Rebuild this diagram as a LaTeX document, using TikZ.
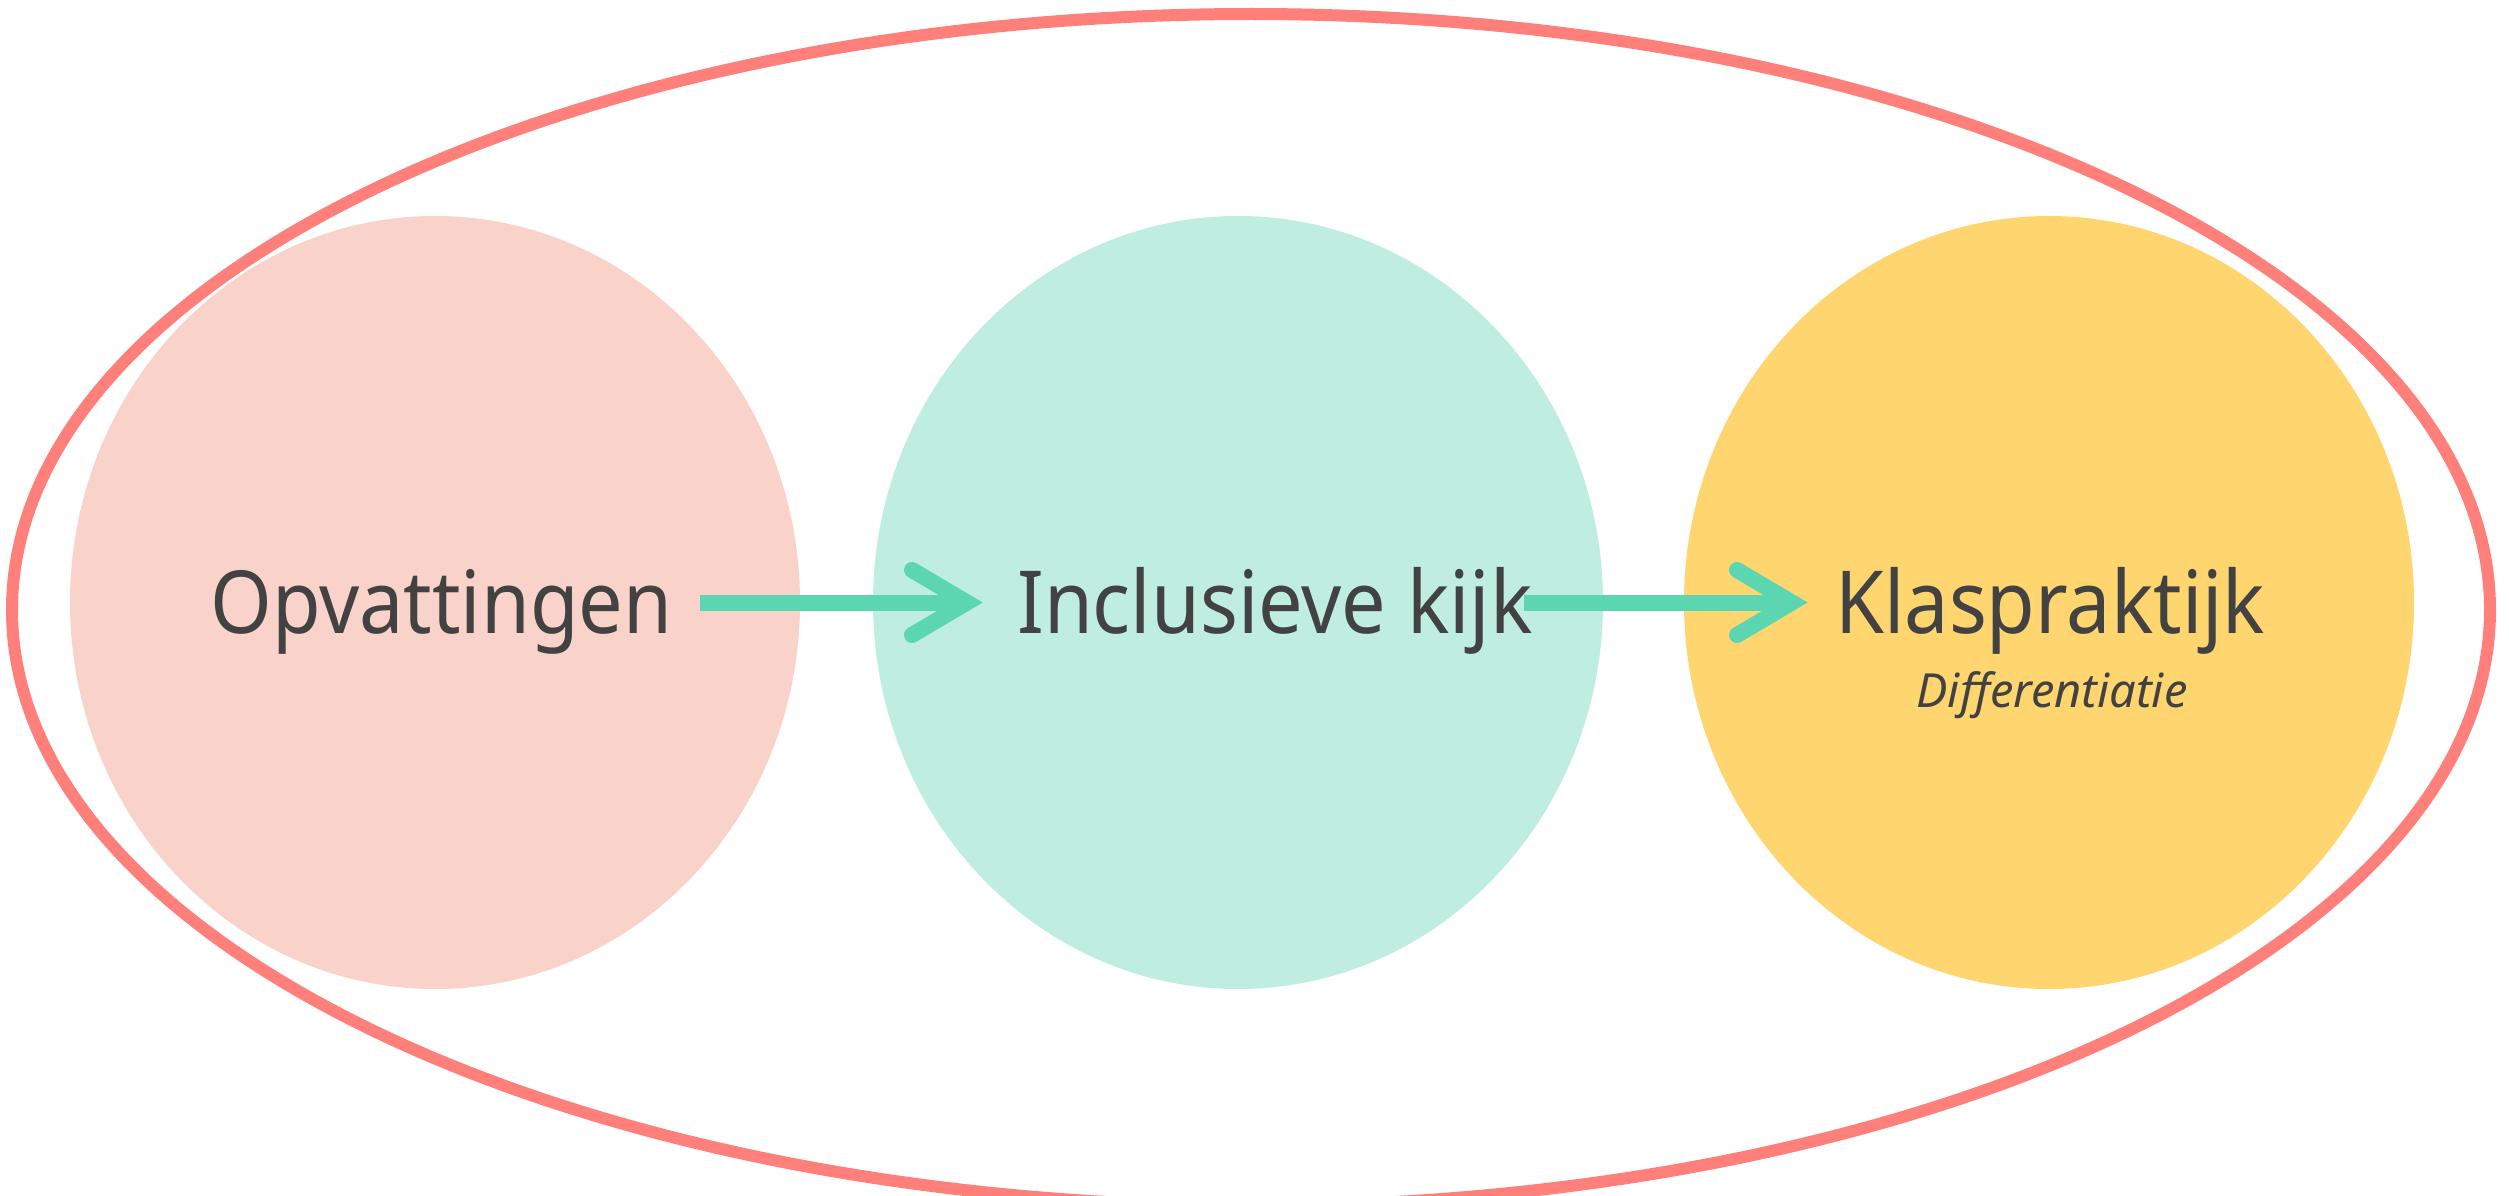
\documentclass[tikz,border=0pt]{standalone}
\usepackage{fontspec}
\setmainfont{Noto Sans}
\newfontfamily\lblfont{Noto Sans}[FakeStretch=0.91]
\definecolor{ringred}{HTML}{FF7F7A}
\definecolor{pinkfill}{HTML}{F9D3CA}
\definecolor{mintfill}{HTML}{BFEDE0}
\definecolor{yellowfill}{HTML}{FED56F}
\definecolor{arrowteal}{HTML}{5CD6B0}
\definecolor{textgray}{HTML}{424242}
\usetikzlibrary{shapes.geometric}
\tikzset{
  blob/.style={ellipse, minimum width=730pt, minimum height=773pt, inner sep=0pt},
  lbl/.style={text=textgray, font=\lblfont\fontsize{87}{90}\selectfont, inner sep=0pt, anchor=base west},
  sublbl/.style={text=textgray, font=\fontsize{47}{50}\selectfont\itshape, inner sep=0pt, anchor=base},
  shaft/.style={arrowteal, line width=16pt},
  chev/.style={arrowteal, line width=16pt, line cap=round, line join=miter}
}
\begin{document}
\begin{tikzpicture}[x=1pt,y=-1pt]
\useasboundingbox (0,0) rectangle (2509,1196);
\draw[ringred, line width=12pt] (1251,610) ellipse [x radius=1239, y radius=596];
\node[blob, fill=pinkfill] (c1) at (435,602.5) {};
\node[blob, fill=mintfill] (c2) at (1238,602.5) {};
\node[blob, fill=yellowfill] (c3) at (2049,602.5) {};
\node[lbl] (t1) at (210,633) {Opvattingen};
\node[lbl] (t2) at (1017,633) {Inclusieve kijk};
\node[lbl] (t3) at (1835,633) {Klaspraktijk};
\node[sublbl] (t4) at (2052,707) {Differentiatie};
\coordinate (a1s) at (700,602.5);
\coordinate (a1t) at (967,602.5);
\coordinate (a1u) at (912,570);
\coordinate (a1d) at (912,635);
\draw[shaft] (a1s) -- (a1t);
\draw[chev] (a1u) -- (a1t) -- (a1d);
\coordinate (a2s) at (1524,602.5);
\coordinate (a2t) at (1792,602.5);
\coordinate (a2u) at (1737,570);
\coordinate (a2d) at (1737,635);
\draw[shaft] (a2s) -- (a2t);
\draw[chev] (a2u) -- (a2t) -- (a2d);
\end{tikzpicture}
\end{document}
